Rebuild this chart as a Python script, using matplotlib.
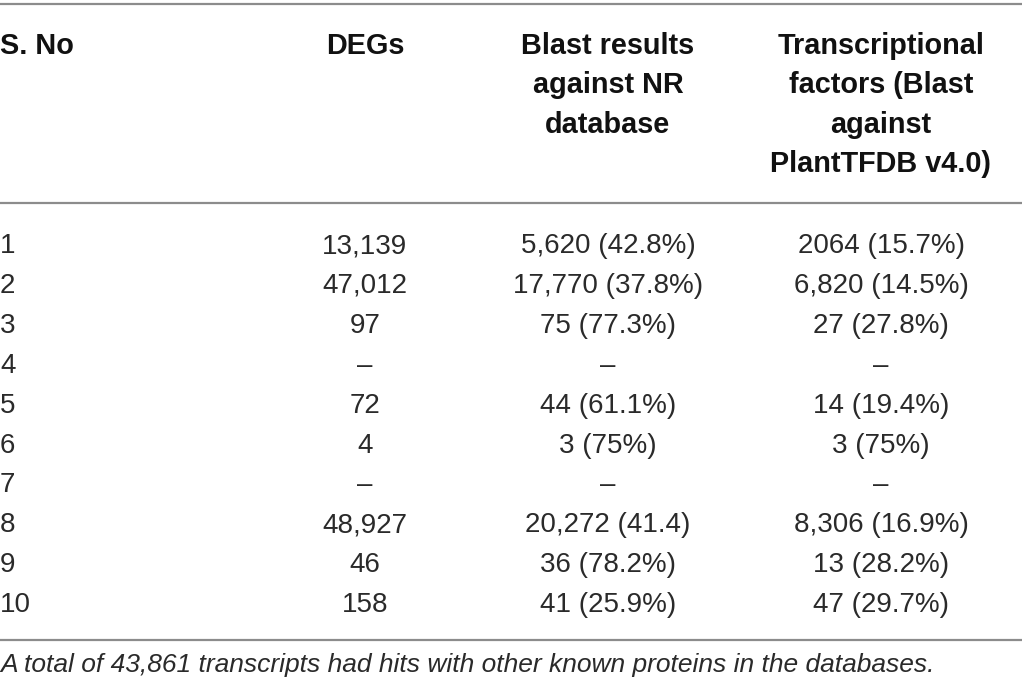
import matplotlib
matplotlib.use("Agg")
import matplotlib.pyplot as plt

# table content
headers = [
    "S. No",
    "DEGs",
    "Blast results\nagainst NR\ndatabase",
    "Transcriptional\nfactors (Blast\nagainst\nPlantTFDB v4.0)",
]
s_no = ["1", "2", "3", "4", "5", "6", "7", "8", "9", "10"]
degs = ["13,139", "47,012", "97", "\u2013", "72", "4", "\u2013", "48,927", "46", "158"]
blast_nr = ["5,620 (42.8%)", "17,770 (37.8%)", "75 (77.3%)", "\u2013", "44 (61.1%)",
            "3 (75%)", "\u2013", "20,272 (41.4)", "36 (78.2%)", "41 (25.9%)"]
tf_hits = ["2064 (15.7%)", "6,820 (14.5%)", "27 (27.8%)", "\u2013", "14 (19.4%)",
           "3 (75%)", "\u2013", "8,306 (16.9%)", "13 (28.2%)", "47 (29.7%)"]
footnote = "A total of 43,861 transcripts had hits with other known proteins in the databases."

W, H = 1022, 691
fig = plt.figure(figsize=(W / 100, H / 100), dpi=100)
ax = fig.add_axes([0, 0, 1, 1])
ax.set_xlim(0, W)
ax.set_ylim(H, 0)
ax.axis("off")

body_font = dict(family="Liberation Sans", size=20, color="#2a2a2a")
head_font = dict(family="Liberation Sans", weight="bold", size=20.8, color="#111111")

# column x positions and alignment
col_x = [0, 365, 608, 881]
col_ha = ["left", "center", "center", "center"]

# rules
line_kw = dict(color="#8c8c8c", lw=1.6)
ax.axhline(4, **line_kw)
ax.axhline(203, **line_kw)
ax.axhline(640, **line_kw)

# header, one text per line so every line sits on its own baseline
for x, ha, h in zip(col_x, col_ha, headers):
    for k, line in enumerate(h.split("\n")):
        ax.text(x, 54 + k * 39.3, line, ha=ha, va="baseline", **head_font)

# body rows
columns = [s_no, degs, blast_nr, tf_hits]
for i in range(len(s_no)):
    y = 253 + i * 39.9
    for x, ha, col in zip(col_x, col_ha, columns):
        ax.text(x, y, col[i], ha=ha, va="baseline", **body_font)

ax.text(0, 672, footnote, ha="left", va="baseline", family="Liberation Sans",
        style="italic", size=19.0, color="#2a2a2a")

fig.savefig("out.png", dpi=100)
